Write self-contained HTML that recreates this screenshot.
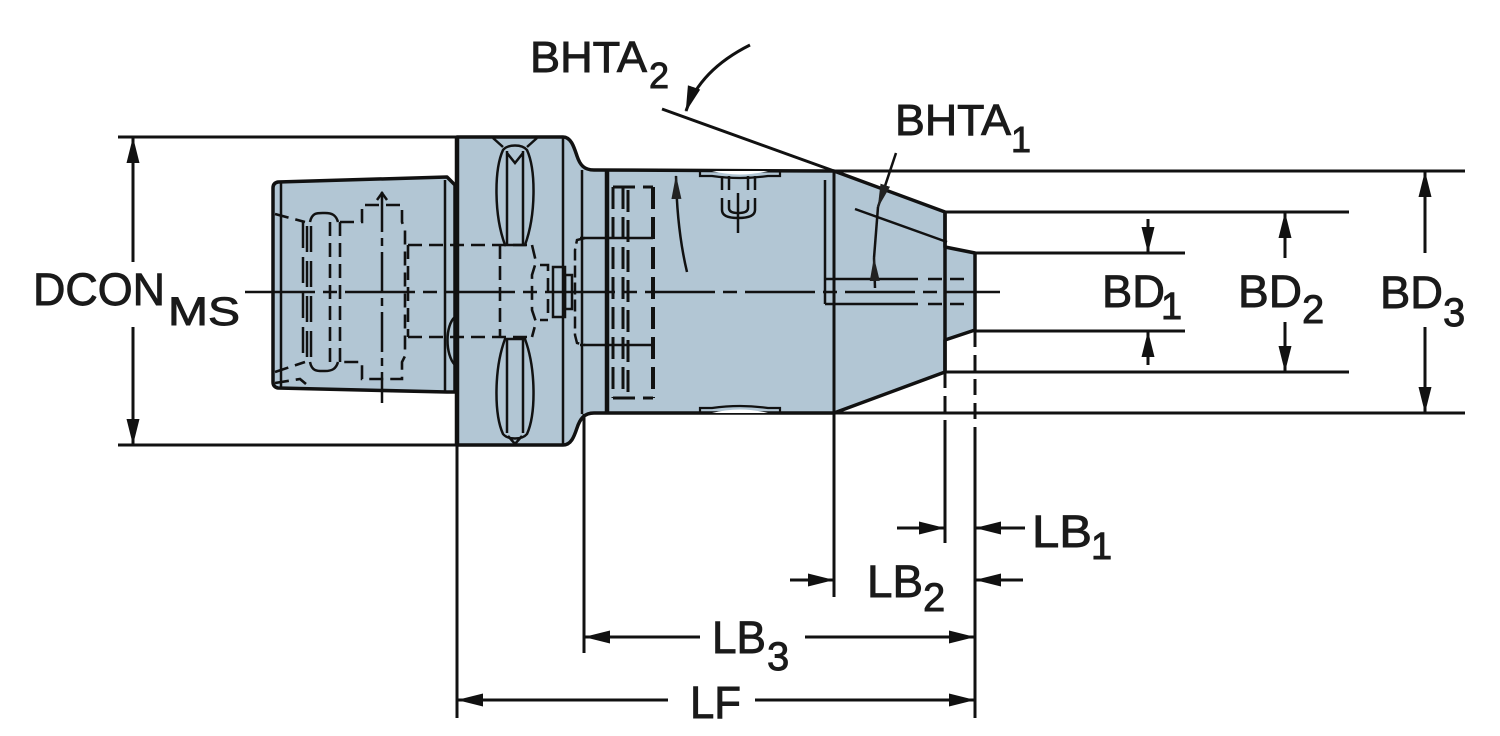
<!DOCTYPE html>
<html><head><meta charset="utf-8"><style>
html,body{margin:0;padding:0;background:#fff;}
svg{display:block;}
text{font-family:"Liberation Sans",Arial,sans-serif;fill:#1a1a1a;stroke:#1a1a1a;stroke-width:0.9;}
</style></head><body>
<svg width="1500" height="736" viewBox="0 0 1500 736" xmlns="http://www.w3.org/2000/svg">
<defs>
<marker id="a" markerUnits="userSpaceOnUse" markerWidth="26" markerHeight="15" viewBox="0 0 26 15" refX="25" refY="7.5" orient="auto"><path d="M0,1 L26,7.5 L0,14 z" fill="#111"/></marker>
<marker id="s" markerUnits="userSpaceOnUse" markerWidth="24" markerHeight="12" viewBox="0 0 24 12" refX="23" refY="6" orient="auto"><path d="M0,1 L24,6 L0,11 z" fill="#222"/></marker>
</defs>

<!-- part fills -->
<g fill="#b2c6d4" stroke="#111" stroke-width="3.5" stroke-linejoin="round">
<path d="M278,182 L447,177 L455,185 L455,392 L447,392 L278,388 Q273,387 273,382 L273,188 Q273,183 278,182 Z"/>
<path d="M457,137 L563,137 C571,137 574,147 577,156 C580,165 584,170 594,170 L834,171 L945,212 L945,247 L975,253 L975,330 L945,340 L945,372 L834,413 L594,413 C584,413 580,419 577,428 C574,437 571,445 563,445 L457,445 Z"/>
</g>

<!-- grooves -->
<path d="M712,171 Q740,178 768,171 Z" fill="#fff" stroke="none"/>
<path d="M700,171 L700,176 L712,176 Q740,180 768,176 L780,176 L780,171" fill="none" stroke="#111" stroke-width="2.2"/>
<path d="M712,413 Q740,406 768,413 Z" fill="#fff" stroke="none"/>
<path d="M700,413 L700,408 L712,408 Q740,404 768,408 L780,408 L780,413" fill="none" stroke="#111" stroke-width="2.2"/>

<g stroke="#111" fill="none">
<!-- structural lines -->
<line x1="457" y1="137" x2="457" y2="445" stroke-width="4.5"/>
<line x1="607" y1="171" x2="607" y2="413" stroke-width="4.5"/>
<line x1="563" y1="137" x2="563" y2="445" stroke-width="2.5"/>
<line x1="582" y1="170" x2="582" y2="414" stroke-width="2.5"/>
<line x1="445" y1="180" x2="445" y2="392" stroke-width="2.5"/>
<line x1="281" y1="183" x2="281" y2="387" stroke-width="2.5"/>
<line x1="834" y1="171" x2="834" y2="413" stroke-width="3"/>
<line x1="945" y1="212" x2="945" y2="372" stroke-width="3.5"/>
<line x1="825" y1="180" x2="825" y2="304" stroke-width="2.5"/>
<line x1="825" y1="279" x2="918" y2="279" stroke-width="2.5"/>
<line x1="825" y1="304" x2="918" y2="304" stroke-width="2.5"/>
<line x1="928" y1="279" x2="965" y2="279" stroke-width="2.5" stroke-dasharray="14 8"/>
<line x1="928" y1="304" x2="965" y2="304" stroke-width="2.5" stroke-dasharray="14 8"/>
<line x1="855" y1="209" x2="947" y2="242" stroke-width="2.5"/>

<!-- flange slots -->
<path d="M503,150 C494,170 494,215 505,245 L525,245 C536,215 536,170 527,150 C522,144 508,144 503,150 Z" stroke-width="2.5"/>
<path d="M507,151 L507,245 M523,151 L523,245 M507,153 L515,163 L523,153" stroke-width="2.5"/>
<path d="M493,138 L503,147 M537,138 L527,147" stroke-width="2.5"/>
<path d="M503,434 C494,414 494,369 505,339 L525,339 C536,369 536,414 527,434 C522,440 508,440 503,434 Z" stroke-width="2.5"/>
<path d="M507,433 L507,339 M523,433 L523,339 M508,436 L515,444 L522,436" stroke-width="2.5"/>
<path d="M455,317 C445,325 445,355 455,365" stroke-width="2.5"/>

<!-- internal dashed (shank/flange) -->
<g stroke-width="2.6" stroke-dasharray="14 7">
<path d="M275,214 L305,222"/>
<path d="M340,222 L362,222 L362,205 L402,205 L402,222 L405,230 L405,356 L402,362 L402,379 L362,379 L362,362 L340,362"/>
<path d="M275,372 L305,362"/>
<path d="M408,245 L532,245 M408,337 L532,337"/>
<path d="M408,245 L408,337"/>
<path d="M500,245 L500,337"/>
<path d="M532,245 L536,262 L532,275 L532,310 L536,322 L532,337"/>
<path d="M330,222 L330,362 M340,222 L340,362"/>
<path d="M275,383 L300,379 L306,384"/>
<path d="M540,265 L548,265 L548,320 L540,320"/>
</g>
<path d="M310,222 C312,212 318,213 325,213 C332,213 336,215 338,222" stroke-width="2.5"/>
<path d="M310,362 C312,372 318,371 325,371 C332,371 336,369 338,362" stroke-width="2.5"/>
<g stroke-width="2.5" stroke-dasharray="26 9">
<line x1="303" y1="222" x2="303" y2="362"/>
<line x1="307" y1="226" x2="307" y2="358"/>
<line x1="311" y1="226" x2="311" y2="358"/>
</g>
<line x1="382" y1="192" x2="382" y2="403" stroke-width="2.5" stroke-dasharray="40 6 8 6"/>
<path d="M377,200 L382,193 L387,200" stroke-width="2.5"/>
<rect x="553" y="267" width="12" height="50" stroke-width="2.5"/>
<rect x="565" y="275" width="7" height="34" stroke-width="2.5"/>
<path d="M585,238 L577,240 L575,250 L575,335 L577,343 L585,345" stroke-width="2.5" stroke-dasharray="12 5"/>
<line x1="580" y1="238" x2="653" y2="238" stroke-width="2.5"/>
<line x1="580" y1="345" x2="653" y2="345" stroke-width="2.5"/>

<!-- body dashed block -->
<g stroke-width="3" stroke-dasharray="22 8">
<line x1="613" y1="187" x2="613" y2="398"/>
<line x1="623" y1="187" x2="623" y2="398"/>
<line x1="628" y1="190" x2="628" y2="395"/>
<line x1="653" y1="187" x2="653" y2="398" stroke-width="4"/>
<line x1="613" y1="187" x2="653" y2="187"/>
<line x1="613" y1="398" x2="653" y2="398"/>
</g>

<!-- coolant symbol -->
<g stroke-width="2.5">
<path d="M722,176 L722,190 M729,176 L729,190 M748,176 L748,190 M755,176 L755,190"/>
<path d="M722,198 L722,210 Q722,218 738,218 Q755,218 755,210 L755,198"/>
<path d="M729,200 L729,208 Q729,213 738,213 Q748,213 748,208 L748,200"/>
<path d="M738,193 L738,233"/>
</g>

<!-- body curved arrow -->
<path d="M687,272 Q677,230 676,176" stroke-width="2.5" marker-end="url(#s)"/>

<!-- center line -->
<line x1="245" y1="292" x2="1000" y2="292" stroke-width="2.5" stroke-dasharray="70 8 14 8"/>

<!-- extension lines -->
<g stroke-width="3">
<line x1="118" y1="137" x2="457" y2="137"/>
<line x1="118" y1="445" x2="457" y2="445"/>
<line x1="834" y1="171" x2="1465" y2="171"/>
<line x1="834" y1="413" x2="1465" y2="413"/>
<line x1="945" y1="212" x2="1349" y2="212"/>
<line x1="945" y1="372" x2="1349" y2="372"/>
<line x1="975" y1="253" x2="1185" y2="253"/>
<line x1="975" y1="331" x2="1185" y2="331"/>
<line x1="457" y1="445" x2="457" y2="718"/>
<line x1="584" y1="414" x2="584" y2="653"/>
<line x1="834" y1="413" x2="834" y2="597"/>
<line x1="945" y1="372" x2="945" y2="428" stroke-dasharray="16 8"/>
<line x1="945" y1="428" x2="945" y2="543"/>
<line x1="975" y1="331" x2="975" y2="428" stroke-dasharray="16 8"/>
<line x1="975" y1="428" x2="975" y2="718"/>
<line x1="662" y1="109" x2="834" y2="171"/>
</g>

<!-- dimension arrows -->
<g stroke-width="3">
<line x1="133" y1="262" x2="133" y2="138" marker-end="url(#a)"/>
<line x1="133" y1="327" x2="133" y2="444" marker-end="url(#a)"/>
<line x1="1148" y1="219" x2="1148" y2="252" marker-end="url(#a)"/>
<line x1="1148" y1="365" x2="1148" y2="332" marker-end="url(#a)"/>
<line x1="1285" y1="258" x2="1285" y2="213" marker-end="url(#a)"/>
<line x1="1285" y1="322" x2="1285" y2="371" marker-end="url(#a)"/>
<line x1="1425" y1="253" x2="1425" y2="172" marker-end="url(#a)"/>
<line x1="1425" y1="327" x2="1425" y2="412" marker-end="url(#a)"/>
<line x1="897" y1="528" x2="944" y2="528" marker-end="url(#a)"/>
<line x1="1025" y1="528" x2="976" y2="528" marker-end="url(#a)"/>
<line x1="790" y1="580" x2="833" y2="580" marker-end="url(#a)"/>
<line x1="1023" y1="580" x2="976" y2="580" marker-end="url(#a)"/>
<line x1="700" y1="637" x2="585" y2="637" marker-end="url(#a)"/>
<line x1="805" y1="637" x2="974" y2="637" marker-end="url(#a)"/>
<line x1="668" y1="700" x2="458" y2="700" marker-end="url(#a)"/>
<line x1="755" y1="700" x2="974" y2="700" marker-end="url(#a)"/>
<path d="M750,45 Q700,70 686,111" marker-end="url(#a)"/>
<path d="M896,153 L878,207" stroke-width="2.5" marker-end="url(#s)"/>
<line x1="878" y1="207" x2="874" y2="258" stroke-width="2.5"/>
<path d="M875,288 L874,258" stroke-width="2.5" marker-end="url(#s)"/>
</g>
</g>

<!-- labels -->
<text x="530" y="72" font-size="44" textLength="117" lengthAdjust="spacingAndGlyphs">BHTA</text>
<text x="649" y="88" font-size="36">2</text>
<text x="895" y="135" font-size="44" textLength="116" lengthAdjust="spacingAndGlyphs">BHTA</text>
<text x="1011" y="152" font-size="36">1</text>
<text x="33" y="305" font-size="45" textLength="132" lengthAdjust="spacingAndGlyphs">DCON</text>
<text x="168" y="325" font-size="40" textLength="72" lengthAdjust="spacingAndGlyphs">MS</text>
<text x="1102" y="307" font-size="45" textLength="63" lengthAdjust="spacingAndGlyphs">BD</text>
<text x="1161" y="319" font-size="38">1</text>
<text x="1238" y="307" font-size="45" textLength="64" lengthAdjust="spacingAndGlyphs">BD</text>
<text x="1302" y="323" font-size="40">2</text>
<text x="1380" y="308" font-size="45" textLength="63" lengthAdjust="spacingAndGlyphs">BD</text>
<text x="1443" y="326" font-size="40">3</text>
<text x="1032" y="547" font-size="45" textLength="60" lengthAdjust="spacingAndGlyphs">LB</text>
<text x="1091" y="559" font-size="38">1</text>
<text x="867" y="597" font-size="45" textLength="56" lengthAdjust="spacingAndGlyphs">LB</text>
<text x="923" y="611" font-size="40">2</text>
<text x="712" y="653" font-size="45" textLength="54" lengthAdjust="spacingAndGlyphs">LB</text>
<text x="767" y="670" font-size="40">3</text>
<text x="690" y="718" font-size="45" textLength="51" lengthAdjust="spacingAndGlyphs">LF</text>
</svg>
</body></html>
